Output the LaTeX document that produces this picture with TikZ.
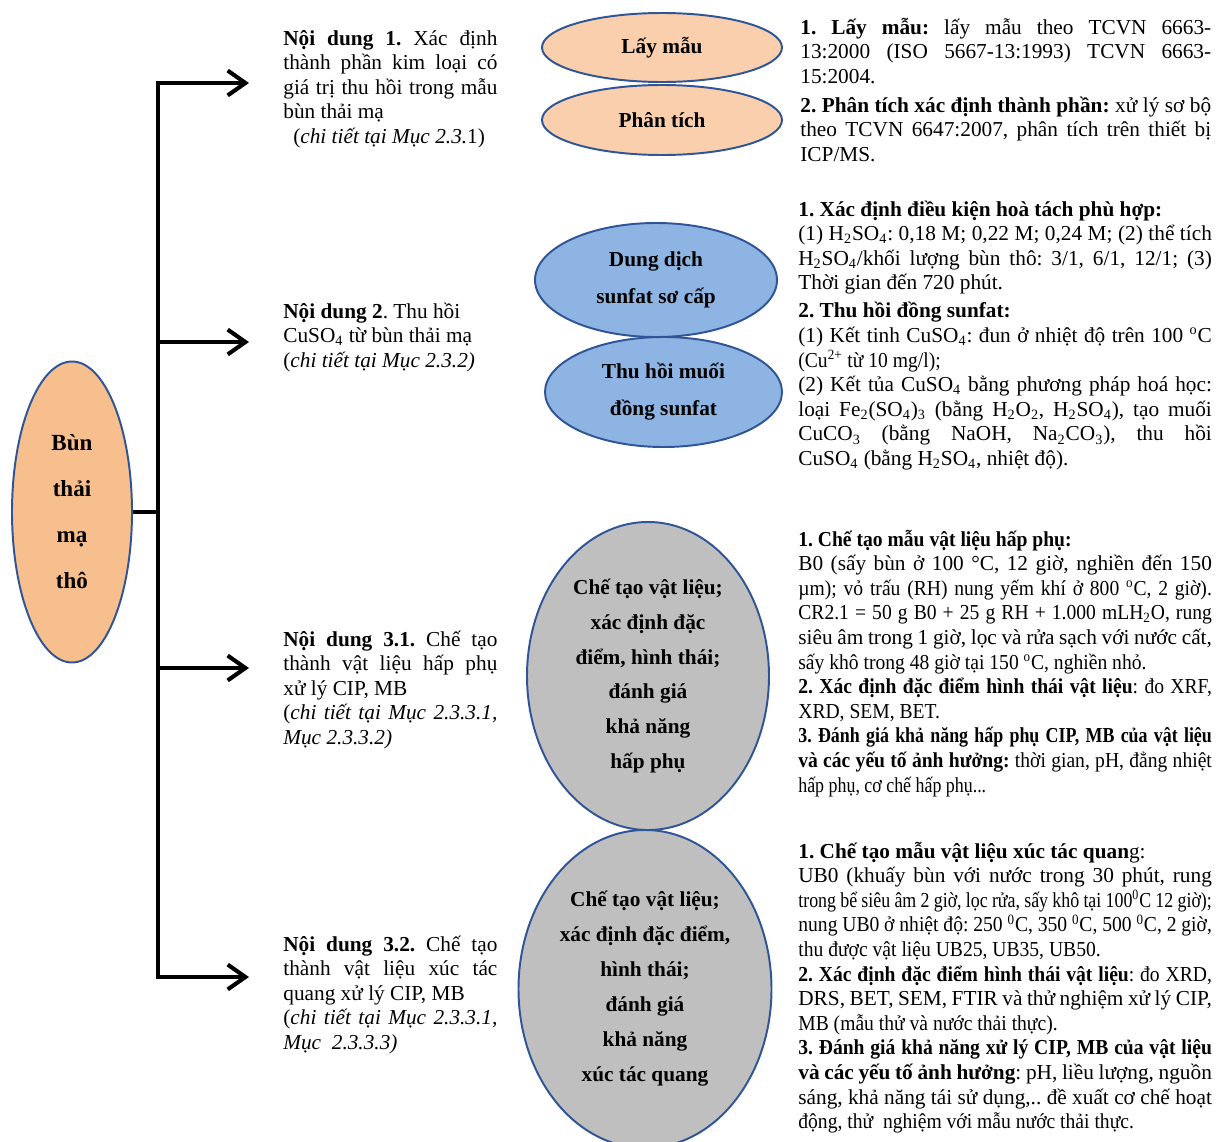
\documentclass[tikz,border=0pt]{standalone}
\usepackage{fontspec}
\setmainfont{Liberation Serif}
\newfontfamily\cnd{Liberation Serif}[FakeStretch=0.92]
\newfontfamily\vcnd{Liberation Serif}[FakeStretch=0.84]
\usetikzlibrary{arrows.meta, shapes.geometric}

\definecolor{ovalline}{HTML}{2F5597}
\definecolor{peach}{HTML}{F7BE8E}
\definecolor{peachlt}{HTML}{F9CFAD}
\definecolor{sky}{HTML}{8EB4E3}
\definecolor{stone}{HTML}{BFBFBF}

\frenchspacing
\newcommand{\jline}[1]{\hbox to\hsize{#1}}
\newcommand{\eline}[1]{\hbox{#1}}
\newcommand{\txtblock}[2]{\vtop{\hsize=#1\fontsize{12}{13.86}\selectfont\lineskiplimit=-20pt #2}}

\begin{document}
\begin{tikzpicture}[
            x=0.5634pt, y=-0.5634pt,
            oval/.style={ellipse, draw=ovalline, line width=1.1pt, inner sep=0pt, align=center, font=\bfseries\fontsize{12}{14}\selectfont},
            dims/.style 2 args={minimum width=#1*0.5634pt, minimum height=#2*0.5634pt},
            trunk/.style={line width=2.3pt, color=black},
            branch/.style={trunk, -{Straight Barb[length=10pt, width=14pt]}},
            blk/.style={anchor=base west, inner sep=0pt}
        ]
        \useasboundingbox (0,0) rectangle (1216,1142);

        \node[oval, fill=peach, dims={120}{301}, font=\bfseries\fontsize{13}{25.9}\selectfont] (raw) at (72,512) {Bùn\\thải\\mạ\\thô};

        \node[oval, fill=peachlt, dims={240}{69}] (sample) at (662,47.5) {Lấy mẫu};
        \node[oval, fill=peachlt, dims={240}{70}] (analysis) at (662,120) {Phân tích};
        \node[oval, fill=sky, dims={242}{114}, font=\bfseries\fontsize{12}{20.8}\selectfont] (leach) at (656,280) {Dung dịch\\sunfat sơ cấp};
        \node[oval, fill=sky, dims={237}{110}, font=\bfseries\fontsize{12}{20.8}\selectfont] (recover) at (663.5,392) {Thu hồi muối\\đồng sunfat};
        \node[oval, fill=stone, dims={242}{308}, font=\bfseries\fontsize{12}{19.7}\selectfont] (adsorb) at (648,676) {Chế tạo vật liệu;\\xác định đặc\\điểm, hình thái;\\đánh giá\\khả năng\\hấp phụ};
        \node[oval, fill=stone, dims={253}{318}, font=\bfseries\fontsize{12}{19.7}\selectfont] (photo) at (645,989) {Chế tạo vật liệu;\\xác định đặc điểm,\\hình thái;\\đánh giá\\khả năng\\xúc tác quang};

        \coordinate (jm) at (158,512);
        \coordinate (j1) at (158,83);
        \coordinate (j2) at (158,342);
        \coordinate (j3) at (158,668);
        \coordinate (j4) at (158,977);
        \coordinate (t1) at (249,83);
        \coordinate (t2) at (249,342);
        \coordinate (t3) at (249,668);
        \coordinate (t4) at (249,977);

        \draw[trunk] (raw.east) -- (jm);
        \draw[trunk, line cap=rect] (j1) -- (j4);
        \foreach \i in {1,...,4}
            \draw[branch] (j\i) -- (t\i);

        % noi dung
        \node[blk] (cont1) at (283,45) {\txtblock{120.6pt}{%
            \jline{\textbf{Nội dung 1.} Xác định}
            \jline{thành phần kim loại có}
            \jline{giá trị thu hồi trong mẫu}
            \eline{bùn thải mạ}
            \eline{\hskip5.6pt(\textit{chi tiết tại Mục 2.3.}1)}}};
        \node[blk] (cont2) at (283,318) {\txtblock{120.6pt}{%
            \eline{\textbf{Nội dung 2}. Thu hồi}
            \eline{CuSO\textsubscript{4} từ bùn thải mạ}
            \eline{(\textit{chi tiết tại Mục 2.3.2)}}}};
        \node[blk] (cont31) at (283,646) {\txtblock{120.6pt}{%
            \jline{\textbf{Nội dung 3.1.} Chế tạo}
            \jline{thành vật liệu hấp phụ}
            \eline{xử lý CIP, MB}
            \jline{(\textit{chi tiết tại Mục 2.3.3.1,}}
            \eline{\textit{Mục 2.3.3.2)}}}};
        \node[blk] (cont32) at (283,951) {\txtblock{120.6pt}{%
            \jline{\textbf{Nội dung 3.2.} Chế tạo}
            \jline{thành vật liệu xúc tác}
            \eline{quang xử lý CIP, MB}
            \jline{(\textit{chi tiết tại Mục 2.3.3.1,}}
            \eline{\textit{Mục\ \ 2.3.3.3)}}}};

        % chi tiet
        \node[blk] (step1) at (800,34) {\txtblock{231.5pt}{%
            \jline{\textbf{1. Lấy mẫu:} lấy mẫu theo TCVN 6663-}
            \jline{13:2000 (ISO 5667-13:1993) TCVN 6663-}
            \eline{15:2004.}
            \vskip2.5pt
            \jline{\textbf{2. Phân tích xác định thành phần:} xử lý sơ bộ}
            \jline{theo TCVN 6647:2007, phân tích trên thiết bị}
            \eline{ICP/MS.}}};
        \node[blk] (step2) at (798,216) {\txtblock{233pt}{%
            \eline{\textbf{1. Xác định điều kiện hoà tách phù hợp:}}
            \jline{(1) H\textsubscript{2}SO\textsubscript{4}: 0,18 M; 0,22 M; 0,24 M; (2) thể tích}
            \jline{H\textsubscript{2}SO\textsubscript{4}/khối lượng bùn thô: 3/1, 6/1, 12/1; (3)}
            \eline{Thời gian đến 720 phút.}
            \vskip2pt
            \eline{\textbf{2. Thu hồi đồng sunfat:}}
            \jline{(1) Kết tinh CuSO\textsubscript{4}: đun ở nhiệt độ trên 100 \textsuperscript{o}C}
            \eline{\cnd (Cu\textsuperscript{2+} từ 10 mg/l);}
            \jline{(2) Kết tủa CuSO\textsubscript{4} bằng phương pháp hoá học:}
            \jline{loại Fe\textsubscript{2}(SO\textsubscript{4})\textsubscript{3} (bằng H\textsubscript{2}O\textsubscript{2}, H\textsubscript{2}SO\textsubscript{4}), tạo muối}
            \jline{CuCO\textsubscript{3} (bằng NaOH, Na\textsubscript{2}CO\textsubscript{3}), thu hồi}
            \eline{CuSO\textsubscript{4} (bằng H\textsubscript{2}SO\textsubscript{4}, nhiệt độ).}}};
        \node[blk] (step31) at (798,546) {\txtblock{233pt}{%
            \eline{\cnd\textbf{1. Chế tạo mẫu vật liệu hấp phụ:}}
            \jline{B0 (sấy bùn ở 100 °C, 12 giờ, nghiền đến 150}
            \jline{\cnd µm); vỏ trấu (RH) nung yếm khí ở 800 \textsuperscript{o}C, 2 giờ).}
            \jline{\cnd CR2.1 = 50 g B0 + 25 g RH + 1.000 mLH\textsubscript{2}O, rung}
            \jline{siêu âm trong 1 giờ, lọc và rửa sạch với nước cất,}
            \eline{\cnd sấy khô trong 48 giờ tại 150 \textsuperscript{o}C, nghiền nhỏ.}
            \jline{\cnd\textbf{2. Xác định đặc điểm hình thái vật liệu}: đo XRF,}
            \eline{\cnd XRD, SEM, BET.}
            \jline{\vcnd\textbf{3. Đánh giá khả năng hấp phụ CIP, MB của vật liệu}}
            \jline{\cnd\textbf{và các yếu tố ảnh hưởng:} thời gian, pH, đẳng nhiệt}
            \eline{\vcnd hấp phụ, cơ chế hấp phụ...}}};
        \node[blk] (step32) at (798,858) {\txtblock{233pt}{%
            \eline{\textbf{1. Chế tạo mẫu vật liệu xúc tác quan}g:}
            \jline{UB0 (khuấy bùn với nước trong 30 phút, rung}
            \jline{\vcnd trong bể siêu âm 2 giờ, lọc rửa, sấy khô tại 100\textsuperscript{0}C 12 giờ);}
            \jline{\cnd nung UB0 ở nhiệt độ: 250 \textsuperscript{0}C, 350 \textsuperscript{0}C, 500 \textsuperscript{0}C, 2 giờ,}
            \eline{\cnd thu được vật liệu UB25, UB35, UB50.}
            \jline{\cnd\textbf{2. Xác định đặc điểm hình thái vật liệu}: đo XRD,}
            \jline{DRS, BET, SEM, FTIR và thử nghiệm xử lý CIP,}
            \eline{\cnd MB (mẫu thử và nước thải thực).}
            \jline{\cnd\textbf{3. Đánh giá khả năng xử lý CIP, MB của vật liệu}}
            \jline{\textbf{và các yếu tố ảnh hưởng}: pH, liều lượng, nguồn}
            \jline{sáng, khả năng tái sử dụng,.. đề xuất cơ chế hoạt}
            \eline{\cnd động, thử\ \ nghiệm với mẫu nước thải thực.}}};

\end{tikzpicture}
\end{document}
